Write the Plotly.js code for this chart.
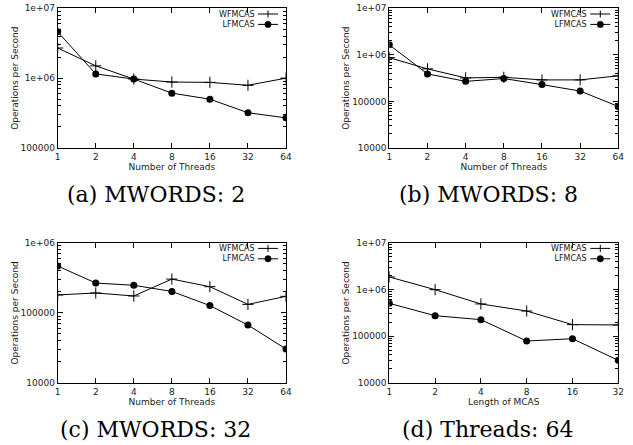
<!DOCTYPE html>
<html><head><meta charset="utf-8">
<script src="https://cdn.plot.ly/plotly-3.0.1.min.js"></script>
<style>html,body{margin:0;padding:0;background:#fff}#chart{width:633px;height:445px}</style>
</head><body><div id="chart"></div>
<script>
// ---- data ----
const threads = [1, 2, 4, 8, 16, 32, 64];
const mcasLength = [1, 2, 4, 8, 16, 32];
const seriesNames = ['WFMCAS', 'LFMCAS'];

const a_wf = [2.7e6, 1.5e6, 0.97e6, 0.88e6, 0.87e6, 0.79e6, 1.0e6];
const a_lf = [4.6e6, 1.15e6, 0.97e6, 0.61e6, 0.50e6, 0.32e6, 0.27e6];

const b_wf = [0.87e6, 0.50e6, 0.32e6, 0.33e6, 0.29e6, 0.29e6, 0.355e6];
const b_lf = [1.64e6, 0.39e6, 0.27e6, 0.31e6, 0.23e6, 0.167e6, 0.078e6];

const c_wf = [1.80e5, 1.92e5, 1.74e5, 3.03e5, 2.36e5, 1.32e5, 1.72e5];
const c_lf = [4.65e5, 2.66e5, 2.47e5, 2.02e5, 1.27e5, 0.67e5, 0.305e5];

const d_wf = [1.85e6, 0.99e6, 0.49e6, 0.346e6, 0.177e6, 0.174e6];
const d_lf = [0.505e6, 0.275e6, 0.226e6, 0.079e6, 0.0885e6, 0.0305e6];

const captions = ['(a) MWORDS: 2', '(b) MWORDS: 8', '(c) MWORDS: 32', '(d) Threads: 64'];
const xTitles = ['Number of Threads', 'Number of Threads', 'Number of Threads', 'Length of MCAS'];
const yTitle = 'Operations per Second';
const yTickVals = [1e4, 1e5, 1e6, 1e7];
const yTickText = ['10000', '100000', '1e+06', '1e+07'];

// ---- layout ----
const W = 633, H = 445;
const px = v => v / W, py = v => 1 - v / H;
const colL = [57.7, 286], colR = [389.3, 618.3];
const rowT = [8.3, 148], rowB = [242.7, 383];
const capL = 155.5, capR = 488;
const panels = [
  {x: threads, wf: a_wf, lf: a_lf, yr: [5, 7], xd: colL, yd: rowT, cx: capL},
  {x: threads, wf: b_wf, lf: b_lf, yr: [4, 7], xd: colR, yd: rowT, cx: capR},
  {x: threads, wf: c_wf, lf: c_lf, yr: [4, 6], xd: colL, yd: rowB, cx: capL},
  {x: mcasLength, wf: d_wf, lf: d_lf, yr: [4, 7], xd: colR, yd: rowB, cx: capR}
];

const tickFont = {family: 'DejaVu Sans', size: 9, color: '#222'};
const legFont = {family: 'DejaVu Sans', size: 8, color: '#111'};
const data = [], shapes = [], annotations = [];
const layout = {
  width: W, height: H, margin: {l: 0, r: 0, t: 0, b: 0},
  paper_bgcolor: '#fff', plot_bgcolor: '#fff', showlegend: false,
  font: tickFont, shapes: shapes, annotations: annotations
};

panels.forEach((p, i) => {
  const n = i === 0 ? '' : String(i + 1);
  data.push({
    x: p.x, y: p.wf, name: seriesNames[0], type: 'scatter', mode: 'lines+markers',
    xaxis: 'x' + n, yaxis: 'y' + n,
    line: {color: '#000', width: 1},
    marker: {symbol: 'cross-thin-open', size: 8, color: '#000', line: {color: '#000', width: 1}}
  });
  data.push({
    x: p.x, y: p.lf, name: seriesNames[1], type: 'scatter', mode: 'lines+markers',
    xaxis: 'x' + n, yaxis: 'y' + n,
    line: {color: '#000', width: 1},
    marker: {symbol: 'circle', size: 7, color: '#000'}
  });
  const minorVals = [];
  for (let e = p.yr[0]; e < p.yr[1]; e++) for (let k = 2; k <= 9; k++) minorVals.push(k * Math.pow(10, e));
  const xmax = p.x[p.x.length - 1];
  layout['xaxis' + n] = {
    type: 'log', domain: [px(p.xd[0]), px(p.xd[1])], range: [0, Math.log10(xmax)],
    anchor: 'y' + n, tickvals: p.x, ticktext: p.x.map(String),
    ticks: 'inside', ticklen: 5, tickcolor: '#000', mirror: 'ticks',
    showline: true, linecolor: '#000', linewidth: 1, showgrid: false, zeroline: false,
    tickfont: tickFont, automargin: false,
    title: {text: xTitles[i], font: tickFont, standoff: 2}
  };
  layout['yaxis' + n] = {
    type: 'log', domain: [py(p.yd[1]), py(p.yd[0])], range: p.yr,
    anchor: 'x' + n, tickvals: yTickVals, ticktext: yTickText,
    ticks: 'inside', ticklen: 5, tickcolor: '#000', mirror: 'ticks',
    minor: {tickmode: 'array', tickvals: minorVals, ticks: 'inside', ticklen: 3, tickcolor: '#000', showgrid: false},
    showline: true, linecolor: '#000', linewidth: 1, showgrid: false, zeroline: false,
    tickfont: tickFont, automargin: false,
    title: {text: yTitle, font: tickFont, standoff: 0}
  };
  // legend key (gnuplot style: labels left of samples)
  const R = p.xd[1], T = p.yd[0];
  const rows = [T + 5.7, T + 16.1];
  annotations.push({
    text: seriesNames.join('<br>'), xref: 'paper', yref: 'paper', x: px(R - 30), y: py((rows[0] + rows[1]) / 2),
    xanchor: 'right', yanchor: 'middle', align: 'right', showarrow: false, font: legFont, borderpad: 0
  });
  rows.forEach(ry => {
    shapes.push({type: 'line', xref: 'paper', yref: 'paper', x0: px(R - 28), x1: px(R - 8),
      y0: py(ry), y1: py(ry), line: {color: '#000', width: 1}});
  });
  shapes.push({type: 'line', xref: 'paper', yref: 'paper', x0: px(R - 18), x1: px(R - 18),
    y0: py(rows[0] - 3.5), y1: py(rows[0] + 3.5), line: {color: '#000', width: 1}});
  shapes.push({type: 'circle', xref: 'paper', yref: 'paper', x0: px(R - 21.2), x1: px(R - 14.8),
    y0: py(rows[1] - 3.2), y1: py(rows[1] + 3.2), fillcolor: '#000', line: {color: '#000', width: 0.5}});
  annotations.push({
    text: captions[i], xref: 'paper', yref: 'paper',
    x: px(p.cx), y: py(p.yd[1] + 46), xanchor: 'center', yanchor: 'middle',
    showarrow: false, font: {family: 'DejaVu Serif', size: 22, color: '#000'}
  });
});

Plotly.newPlot('chart', data, layout, {displayModeBar: false, staticPlot: true});
</script></body></html>
